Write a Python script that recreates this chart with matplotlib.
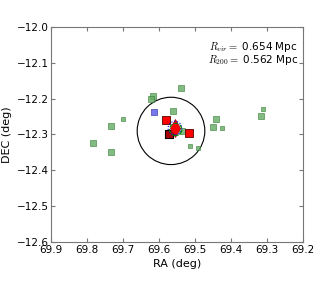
import numpy as np
import matplotlib
matplotlib.use('Agg')
import matplotlib.pyplot as plt
from matplotlib.patches import Circle

plt.rcParams['mathtext.fontset'] = 'cm'

# member galaxies (green), size class: 1 small, 2 medium
g_ra = [69.700, 69.733, 69.783, 69.733, 69.539, 69.617, 69.622, 69.561, 69.536,
        69.514, 69.492, 69.442, 69.450, 69.425, 69.311, 69.317]
g_dec = [-12.257, -12.277, -12.324, -12.349, -12.170, -12.193, -12.201, -12.235, -12.291,
         -12.332, -12.338, -12.257, -12.279, -12.282, -12.229, -12.249]
g_size = [1, 2, 2, 2, 2, 2, 2, 2, 2, 1, 1, 2, 2, 1, 1, 2]

r_ra = [69.581, 69.517, 69.572]
r_dec = [-12.260, -12.296, -12.299]

b_ra = [69.614]
b_dec = [-12.237]

bcg_ra, bcg_dec = 69.556, -12.282
cen_ra, cen_dec = 69.567, -12.290
r_vir_deg = 0.094
r_small = 0.019

fig = plt.figure(figsize=(3.2, 2.88), dpi=100)
ax = fig.add_axes([0.16, 0.16, 0.787, 0.746])

sz = {1: 9, 2: 20}
ax.scatter(g_ra, g_dec, s=[sz[k] for k in g_size], marker='s', c='#66aa66',
           edgecolors='#2e7d2e', linewidths=0.5, alpha=0.8, zorder=3)
ax.scatter(b_ra, b_dec, s=18, marker='s', c='#7777ee', edgecolors='#4444aa',
           linewidths=0.5, zorder=3)
ax.scatter(r_ra[:2], r_dec[:2], s=26, marker='s', c='red', edgecolors='#550000',
           linewidths=0.6, zorder=4)
ax.scatter(r_ra[2:], r_dec[2:], s=26, marker='s', c='#aa0000', edgecolors='black',
           linewidths=0.8, zorder=4)
ax.plot(bcg_ra, bcg_dec, marker='d', ms=9, color='red', mec='#aa0000', mew=0.5, zorder=5)

ax.add_patch(Circle((cen_ra, cen_dec), r_vir_deg, fill=False, ec='black', lw=0.8, zorder=2))
ax.add_patch(Circle((bcg_ra, bcg_dec), r_small, fill=False, ec='blue', lw=0.8, ls=':', zorder=6))
ax.add_patch(Circle((bcg_ra - 0.002, bcg_dec - 0.004), r_small * 0.9, fill=False, ec='green',
                    lw=0.8, ls='--', zorder=6))

ax.set_xlim(69.9, 69.2)
ax.set_ylim(-12.6, -12.0)
ax.set_xticks(np.round(np.arange(69.9, 69.15, -0.1), 1))
ax.set_yticks(np.round(np.arange(-12.6, -11.95, 0.1), 1))
ax.tick_params(direction='in', top=True, right=True, labelsize=7.5, color='#777777',
               length=3, pad=2)
for s in ax.spines.values():
    s.set_color('#777777')
ax.set_xlabel('RA (deg)', fontsize=8, labelpad=3)
ax.set_ylabel('DEC (deg)', fontsize=8, labelpad=3)

ax.text(0.98, 0.94, '$R_{vir} =$ 0.654 Mpc\n$R_{200} =$ 0.562 Mpc', transform=ax.transAxes,
        ha='right', va='top', fontsize=7.5, linespacing=0.9)

fig.savefig('out.png', dpi=100)
